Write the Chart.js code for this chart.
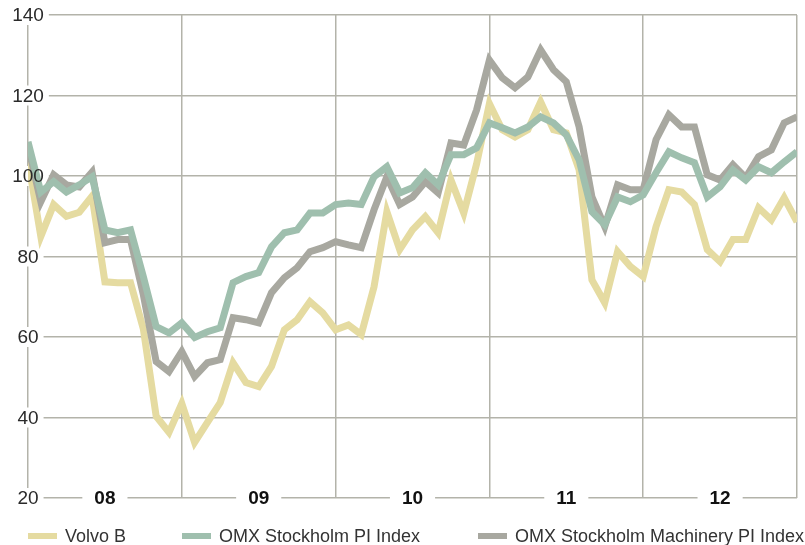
<!DOCTYPE html>
<html>
<head>
<meta charset="utf-8">
<script src="https://cdn.jsdelivr.net/npm/chart.js@4.4.0/dist/chart.umd.min.js"></script>
<style>
  html, body { margin: 0; padding: 0; background: #fff; }
  #wrap { position: relative; width: 805px; height: 545px; }
</style>
</head>
<body>
<div id="wrap"><canvas id="chart" width="805" height="545"></canvas></div>
<script>
// monthly index values, Jan 2008 .. Jan 2013
const years = ['08', '09', '10', '11', '12']
const yTicks = [20, 40, 60, 80, 100, 120, 140]
const seriesNames = ['Volvo B', 'OMX Stockholm PI Index', 'OMX Stockholm Machinery PI Index']

const volvoB = [104, 85, 92.9, 90, 91, 95, 73.7, 73.5, 73.5, 62, 40.3, 36.3,
  43.5, 33.8, 38.8, 43.7, 53.6, 48.7, 47.7, 52.7, 61.8, 64.3, 68.8, 66,
  61.8, 63, 60.6, 72.5, 91.1, 81.7, 86.6, 89.9, 85.9, 99, 90.8, 103,
  118, 111.5, 109.7, 111.5, 118.4, 111.5, 110.7, 101.5, 74.2, 68.5, 81.2, 77.5,
  75, 87.4, 96.6, 96, 92.9, 81.7, 78.7, 84.2, 84.2, 92.1, 89.1, 94.6,
  88.6]

const omxPI = [108.5, 96, 98.6, 96, 97.8, 99.8, 86.6, 85.9, 86.6, 75, 62.6, 61,
  63.5, 59.9, 61.3, 62.3, 73.5, 75, 76, 82.4, 85.9, 86.6, 90.8, 90.8,
  92.9, 93.3, 92.9, 99.8, 102.3, 95.8, 97.1, 100.8, 97.8, 105.3, 105.3, 107,
  113.2, 112, 110.7, 112.2, 114.7, 113.2, 110.2, 104, 91.1, 87.9, 94.8, 93.6,
  95.3, 100.8, 106, 104.5, 103.3, 94.8, 97.3, 101.5, 99, 102.3, 100.8, 103.5,
  106]

const omxMachinery = [107.5, 93.6, 100.3, 97.8, 97.3, 101, 83.4, 84.2, 84.2, 70.5, 53.9, 51.4,
  56.4, 50.2, 53.6, 54.4, 64.8, 64.3, 63.5, 71, 74.7, 77.2, 81.2, 82.2,
  83.7, 82.9, 82.2, 91.6, 99.8, 92.9, 94.8, 98.6, 95.8, 108.2, 107.7, 116.4,
  128.8, 124.4, 121.9, 124.6, 131.3, 126.4, 123.4, 112.2, 94.8, 87.4, 97.8, 96.6,
  96.6, 109, 115.2, 112.2, 112.2, 100.3, 99, 102.8, 99.6, 104.8, 106.5, 113.2,
  114.7]

const colors = ['#e5dba1', '#9fbfae', '#a8a8a0']
const gridColor = '#b3b3aa'

const toPoints = (arr) => arr.map((v, i) => ({ x: i, y: v }))

const tickFont = '19px "Liberation Sans", Arial, sans-serif'
const yearFont = 'bold 19px "Liberation Sans", Arial, sans-serif'

// white patches break the grid where the tick labels go (under the series),
// the label text itself is painted last
const labelPlugin = {
  id: 'axisLabels',
  beforeDatasetsDraw: (chart) => {
    var ctx = chart.ctx
    var area = chart.chartArea
    var xs = chart.scales.x
    var ys = chart.scales.y
    ctx.save()
    ctx.fillStyle = '#fff'
    ctx.font = tickFont
    yTicks.forEach((v) => {
      var py = ys.getPixelForValue(v)
      var w = ctx.measureText(String(v)).width
      ctx.fillRect(area.left - w / 2 - 5, py - 10, w + 10, 20)
    })
    ctx.font = yearFont
    years.forEach((yr, k) => {
      var px = xs.getPixelForValue(k * 12 + 6)
      var w = ctx.measureText(yr).width
      ctx.fillRect(px - w / 2 - 12, area.bottom - 10, w + 24, 20)
    })
    ctx.restore()
  },
  afterDraw: (chart) => {
    var ctx = chart.ctx
    var area = chart.chartArea
    var xs = chart.scales.x
    var ys = chart.scales.y
    ctx.save()
    ctx.textBaseline = 'middle'
    ctx.textAlign = 'center'

    ctx.font = tickFont
    ctx.fillStyle = '#2a2a2a'
    yTicks.forEach((v) => {
      ctx.fillText(String(v), area.left, ys.getPixelForValue(v) + 1)
    })

    ctx.font = yearFont
    ctx.fillStyle = '#111'
    years.forEach((yr, k) => {
      ctx.fillText(yr, xs.getPixelForValue(k * 12 + 6), area.bottom + 1)
    })

    // legend row
    var legendX = [28, 182, 478]
    var ly = 536
    ctx.textAlign = 'left'
    ctx.font = '18px "Liberation Sans", Arial, sans-serif'
    seriesNames.forEach((name, k) => {
      ctx.fillStyle = colors[k]
      ctx.fillRect(legendX[k], ly - 3, 29, 6)
      ctx.fillStyle = '#333'
      ctx.fillText(name, legendX[k] + 37, ly + 1)
    })
    ctx.restore()
  },
}

const makeSet = (label, data, color, order) => ({
  label: label,
  data: toPoints(data),
  borderColor: color,
  backgroundColor: color,
  borderWidth: 7,
  pointRadius: 0,
  tension: 0,
  fill: false,
  order: order,
})

new Chart(document.getElementById('chart'), {
  type: 'line',
  data: {
    datasets: [
      makeSet(seriesNames[0], volvoB, colors[0], 2),
      makeSet(seriesNames[1], omxPI, colors[1], 0),
      makeSet(seriesNames[2], omxMachinery, colors[2], 1),
    ],
  },
  options: {
    responsive: false,
    animation: false,
    devicePixelRatio: 1,
    layout: { padding: { left: 28, right: 8, top: 15, bottom: 47 } },
    plugins: {
      legend: { display: false },
      tooltip: { enabled: false },
    },
    scales: {
      x: {
        type: 'linear',
        min: 0,
        max: 60,
        ticks: { display: false, stepSize: 12 },
        grid: { color: gridColor, lineWidth: 1.5, drawTicks: false },
        border: { display: false },
      },
      y: {
        min: 20,
        max: 140,
        ticks: { display: false, stepSize: 20 },
        grid: { color: gridColor, lineWidth: 1.5, drawTicks: false },
        border: { display: false },
      },
    },
  },
  plugins: [labelPlugin],
})
</script>
</body>
</html>
